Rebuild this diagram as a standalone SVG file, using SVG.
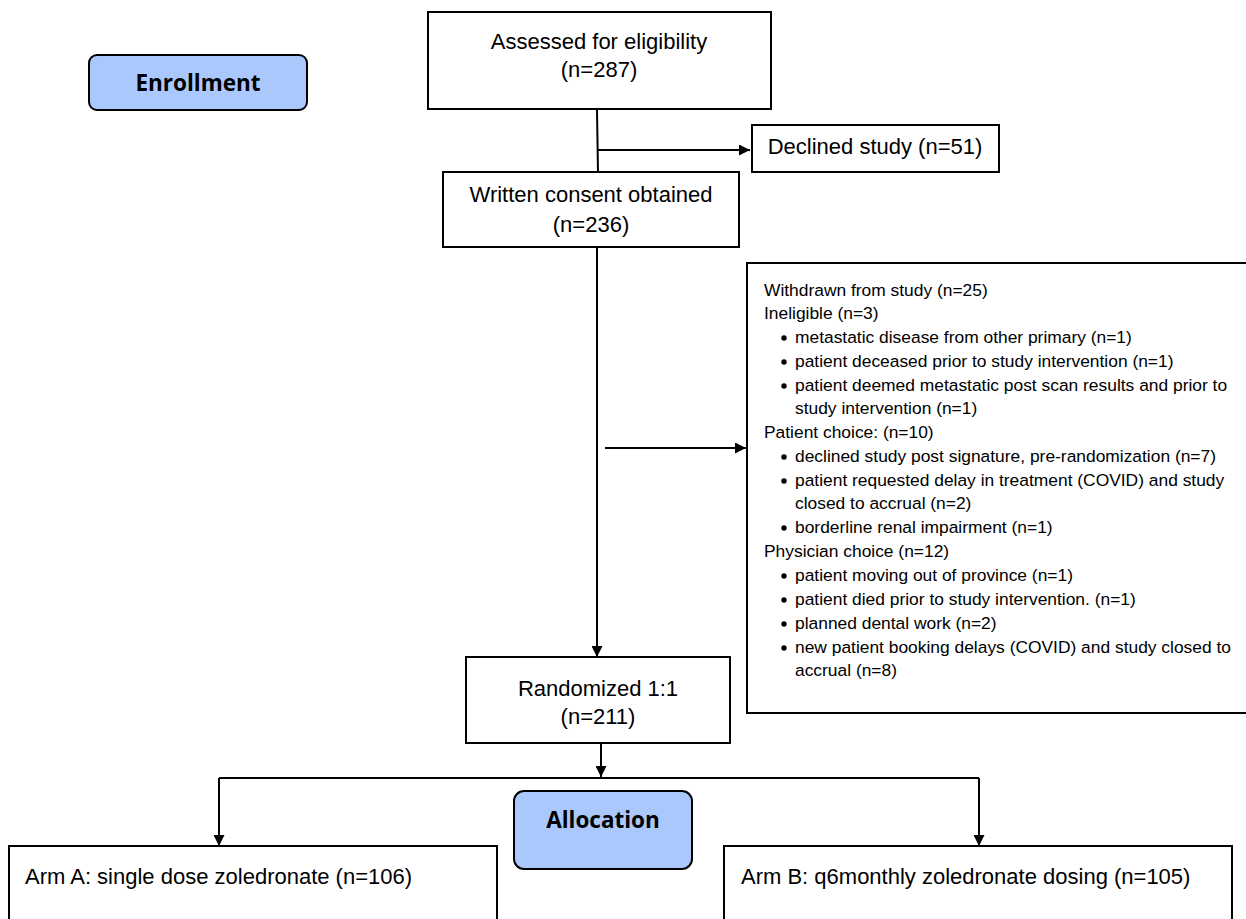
<svg xmlns="http://www.w3.org/2000/svg" width="1246" height="919" viewBox="0 0 1246 919">
<defs>
<marker id="arr" viewBox="0 0 10 10" refX="10" refY="5" markerWidth="11" markerHeight="11" markerUnits="userSpaceOnUse" orient="auto">
<path d="M0,0 L10,5 L0,10 z" fill="#000"/>
</marker>
<style>
.box{fill:#fff;stroke:#000;stroke-width:2}
.stage{fill:#aac8fb;stroke:#000;stroke-width:2}
.t{font-family:"Liberation Sans",Arial,sans-serif;font-size:22px;fill:#000}
.c{text-anchor:middle}
.s{font-family:"Liberation Sans",Arial,sans-serif;font-size:17.4px;fill:#000}
.b{font-family:"Open Sans","Noto Sans",sans-serif;font-size:22.5px;font-weight:bold;fill:#000;text-anchor:middle}
.ln{fill:none;stroke:#000;stroke-width:2}
</style>
</defs>
<rect width="1246" height="919" fill="#fff"/>
<g id="connectors">
<path class="ln" d="M597,110 L598,173"/>
<path class="ln" d="M598,150 L750,150" marker-end="url(#arr)"/>
<path class="ln" d="M597,248 L597,657" marker-end="url(#arr)"/>
<path class="ln" d="M605,448 L746,448" marker-end="url(#arr)"/>
<path class="ln" d="M601,743 L601,777" marker-end="url(#arr)"/>
<path class="ln" d="M219,778 L979,778"/>
<path class="ln" d="M219,778 L219,846" marker-end="url(#arr)"/>
<path class="ln" d="M979,778 L979,846" marker-end="url(#arr)"/>
</g>
<g id="enrollment">
<rect class="stage" x="89" y="55" width="218" height="55" rx="8"/>
<text class="b" x="198" y="91">Enrollment</text>
</g>
<g id="assessed">
<rect class="box" x="428" y="12" width="343" height="97"/>
<text class="t c" x="599" y="49">Assessed for eligibility</text>
<text class="t c" x="599" y="77">(n=287)</text>
</g>
<g id="declined">
<rect class="box" x="752" y="125" width="247" height="47"/>
<text class="t c" x="875" y="154">Declined study (n=51)</text>
</g>
<g id="consent">
<rect class="box" x="443" y="172" width="296" height="75"/>
<text class="t c" x="591" y="202">Written consent obtained</text>
<text class="t c" x="591" y="232">(n=236)</text>
</g>
<g id="withdrawn">
<rect class="box" x="747" y="263" width="510" height="450"/>
<g class="s">
<text x="764" y="296">Withdrawn from study (n=25)</text>
<text x="764" y="319">Ineligible (n=3)</text>
<text x="795" y="343">metastatic disease from other primary (n=1)</text>
<text x="795" y="367">patient deceased prior to study intervention (n=1)</text>
<text x="795" y="391">patient deemed metastatic post scan results and prior to</text>
<text x="795" y="414">study intervention (n=1)</text>
<text x="764" y="438">Patient choice: (n=10)</text>
<text x="795" y="462">declined study post signature, pre-randomization (n=7)</text>
<text x="795" y="486">patient requested delay in treatment (COVID) and study</text>
<text x="795" y="509">closed to accrual (n=2)</text>
<text x="795" y="533">borderline renal impairment (n=1)</text>
<text x="764" y="557">Physician choice (n=12)</text>
<text x="795" y="581">patient moving out of province (n=1)</text>
<text x="795" y="605">patient died prior to study intervention. (n=1)</text>
<text x="795" y="629">planned dental work (n=2)</text>
<text x="795" y="653">new patient booking delays (COVID) and study closed to</text>
<text x="795" y="676">accrual (n=8)</text>
</g>
<g fill="#000">
<circle cx="784" cy="338" r="2.7"/>
<circle cx="784" cy="362" r="2.7"/>
<circle cx="784" cy="386" r="2.7"/>
<circle cx="784" cy="457" r="2.7"/>
<circle cx="784" cy="481" r="2.7"/>
<circle cx="784" cy="528" r="2.7"/>
<circle cx="784" cy="576" r="2.7"/>
<circle cx="784" cy="600" r="2.7"/>
<circle cx="784" cy="624" r="2.7"/>
<circle cx="784" cy="648" r="2.7"/>
</g>
</g>
<g id="randomized">
<rect class="box" x="466" y="657" width="264" height="86"/>
<text class="t c" x="598" y="696">Randomized 1:1</text>
<text class="t c" x="598" y="724">(n=211)</text>
</g>
<g id="allocation">
<rect class="stage" x="514" y="791" width="178" height="78" rx="10"/>
<text class="b" x="603" y="828">Allocation</text>
</g>
<g id="armA">
<rect class="box" x="9" y="846" width="488" height="85"/>
<text class="t" x="25" y="884">Arm A: single dose zoledronate (n=106)</text>
</g>
<g id="armB">
<rect class="box" x="724" y="846" width="508" height="85"/>
<text class="t" x="741" y="884">Arm B: q6monthly zoledronate dosing (n=105)</text>
</g>
</svg>
